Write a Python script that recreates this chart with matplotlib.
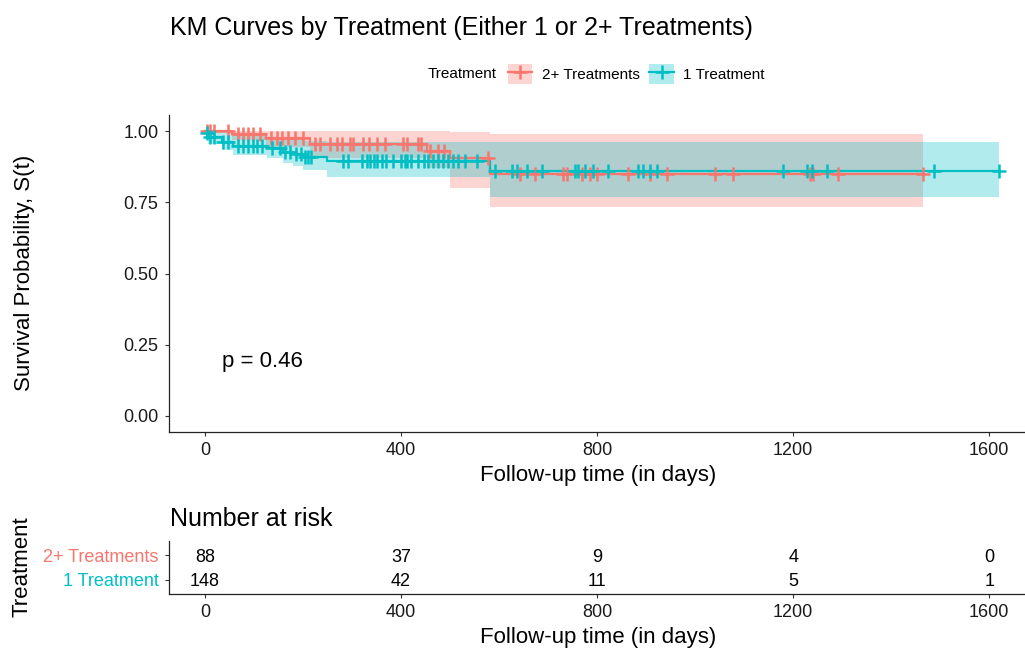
import numpy as np
import matplotlib
matplotlib.use("Agg")
import matplotlib.pyplot as plt
from matplotlib.patches import Patch
from matplotlib.lines import Line2D
from matplotlib.legend_handler import HandlerTuple

plt.rcParams['font.family'] = ['Liberation Sans', 'DejaVu Sans']

# ---------------- data ----------------
groups = ["2+ Treatments", "1 Treatment"]
colors = ["#F8766D", "#00BFC4"]

# 2+ Treatments KM step curve
t2_times = [0, 55, 125, 215, 453, 500, 582]
t2_surv = [1.0, 0.989, 0.977, 0.955, 0.930, 0.905, 0.850]
t2_upper = [1.0, 1.0, 1.0, 1.0, 1.0, 0.995, 0.99]
t2_lower = [1.0, 0.967, 0.945, 0.905, 0.87, 0.80, 0.733]
t2_end = 1465
t2_censor = [4, 10, 18, 47, 67, 77, 88, 98, 112, 134, 147, 157, 170, 183,
             200, 225, 235, 255, 270, 280, 295, 302, 322, 335, 350, 367, 404,
             412, 435, 440, 460, 475, 487, 577,
             643, 673, 731, 739, 769, 786, 800, 863, 908, 943, 1041, 1078,
             1235, 1240, 1292, 1465]

# 1 Treatment KM step curve
t1_times = [0, 2, 6, 35, 57, 127, 159, 180, 200, 249, 582]
t1_surv = [1.0, 0.993, 0.979, 0.962, 0.948, 0.940, 0.928, 0.920, 0.908, 0.896, 0.858]
t1_upper = [1.0, 1.0, 1.0, 0.995, 0.985, 0.98, 0.972, 0.968, 0.965, 0.963, 0.96]
t1_lower = [1.0, 0.98, 0.955, 0.935, 0.915, 0.905, 0.888, 0.878, 0.862, 0.84, 0.77]
t1_end = 1620
t1_censor = [4, 10, 18, 37, 47, 67, 77, 87, 97, 107, 117, 137, 153, 163, 173,
             185, 195, 204, 210, 217, 282, 292, 320, 330, 337, 345, 351, 361,
             370, 383, 400, 407, 412, 420, 435, 447, 455, 465, 475, 486, 496,
             506, 516, 530, 555,
             592, 627, 637, 657, 688, 755, 761, 776, 792, 822, 884, 894, 908,
             922, 1180, 1229, 1239, 1269, 1488, 1620]

risk_times = [0, 400, 800, 1200, 1600]
risk_2plus = [88, 37, 9, 4, 0]
risk_1 = [148, 42, 11, 5, 1]
p_value_text = "p = 0.46"
x_ticks = [0, 400, 800, 1200, 1600]
y_ticks = [0.00, 0.25, 0.50, 0.75, 1.00]

# ---------------- layout ----------------
W, H = 1025, 651
fig = plt.figure(figsize=(W / 100, H / 100), dpi=100)


def rect(l, t, r, b):
    return [l / W, 1 - b / H, (r - l) / W, (b - t) / H]


XLIM = (-73.5, 1673)
ax = fig.add_axes(rect(169, 115, 1025, 432))
ax.set_xlim(*XLIM)
ax.set_ylim(-16 / 285, 1 + 16 / 285)

curves = [
    (t2_times, t2_surv, t2_upper, t2_lower, t2_end, t2_censor),
    (t1_times, t1_surv, t1_upper, t1_lower, t1_end, t1_censor),
]


def ext(times, vals, end):
    return np.array(list(times) + [end]), np.array(list(vals) + [vals[-1]])


# ribbons
for (tt, ss, up, lo, end, cens), c in zip(curves, colors):
    x, u = ext(tt, up, end)
    _, l = ext(tt, lo, end)
    ax.fill_between(x, l, u, step='post', color=c, alpha=0.3, linewidth=0)
# lines
for (tt, ss, up, lo, end, cens), c in zip(curves, colors):
    x, s = ext(tt, ss, end)
    ax.step(x, s, where='post', color=c, lw=1.6)
# censor marks
for (tt, ss, up, lo, end, cens), c in zip(curves, colors):
    tt_a = np.array(tt)
    idx = np.searchsorted(tt_a, np.array(cens), side='right') - 1
    ys = np.array(ss)[idx]
    ax.plot(cens, ys, linestyle='none', marker='+', color=c, ms=10, mew=1.8)

ax.text(35, 0.19, p_value_text, fontsize=16, ha='left', va='center')

ax.spines['top'].set_visible(False)
ax.spines['right'].set_visible(False)
ax.set_xticks(x_ticks)
ax.set_xticklabels([str(v) for v in x_ticks])
ax.set_yticks(y_ticks)
ax.set_yticklabels([f"{v:.2f}" for v in y_ticks])
ax.tick_params(labelsize=13, length=3, width=0.8, pad=4.5, colors='#333333',
               labelcolor='#1a1a1a')
for sp in ax.spines.values():
    sp.set_linewidth(0.9)
    sp.set_color('#222222')

fig.text(598 / W, 1 - 476 / H, "Follow-up time (in days)", fontsize=16,
         ha='center', va='center')
fig.text(25 / W, 1 - 273 / H, "Survival Probability, S(t)", fontsize=16,
         ha='center', va='center', rotation=90)
fig.text(170 / W, 1 - 28 / H, "KM Curves by Treatment (Either 1 or 2+ Treatments)",
         fontsize=18, ha='left', va='center')

# legend
fig.text(428 / W, 1 - 74 / H, "Treatment", fontsize=11, ha='left', va='center')
handles = []
for c in colors:
    handles.append((Patch(facecolor=c, alpha=0.3, edgecolor='none'),
                    Line2D([], [], color=c, lw=1.6, marker='+', ms=10, mew=1.8)))
fig.legend(handles, groups, loc='center left', bbox_to_anchor=(508 / W, 1 - 74 / H),
           ncol=2, frameon=False, fontsize=11, borderpad=0, borderaxespad=0,
           handlelength=1.6, handleheight=1.6, handletextpad=0.6,
           columnspacing=0.65, numpoints=1,
           handler_map={tuple: HandlerTuple(ndivide=1, pad=0)})

# ---------------- risk table ----------------
rax = fig.add_axes(rect(169, 541, 1025, 594))
rax.set_xlim(*XLIM)
rax.set_ylim(0.4, 2.6)
for t, n2, n1 in zip(risk_times, risk_2plus, risk_1):
    rax.text(t, 2, str(n2), fontsize=13, ha='center', va='center_baseline')
    rax.text(t, 1, str(n1), fontsize=13, ha='center', va='center_baseline')
rax.spines['top'].set_visible(False)
rax.spines['right'].set_visible(False)
for sp in rax.spines.values():
    sp.set_linewidth(0.9)
    sp.set_color('#222222')
rax.set_xticks(x_ticks)
rax.set_xticklabels([str(v) for v in x_ticks])
rax.set_yticks([2, 1])
rax.set_yticklabels(groups)
rax.tick_params(labelsize=13, length=3, width=0.8, pad=4.5, colors='#333333',
                labelcolor='#1a1a1a')
for lab, c in zip(rax.get_yticklabels(), colors):
    lab.set_color(c)
    lab.set_verticalalignment('center_baseline')
fig.text(170 / W, 1 - 519 / H, "Number at risk", fontsize=18, ha='left', va='center')
fig.text(598 / W, 1 - 638 / H, "Follow-up time (in days)", fontsize=16,
         ha='center', va='center')
fig.text(22 / W, 1 - 567 / H, "Treatment", fontsize=16, ha='center', va='center',
         rotation=90)

fig.savefig("out.png", dpi=100)
